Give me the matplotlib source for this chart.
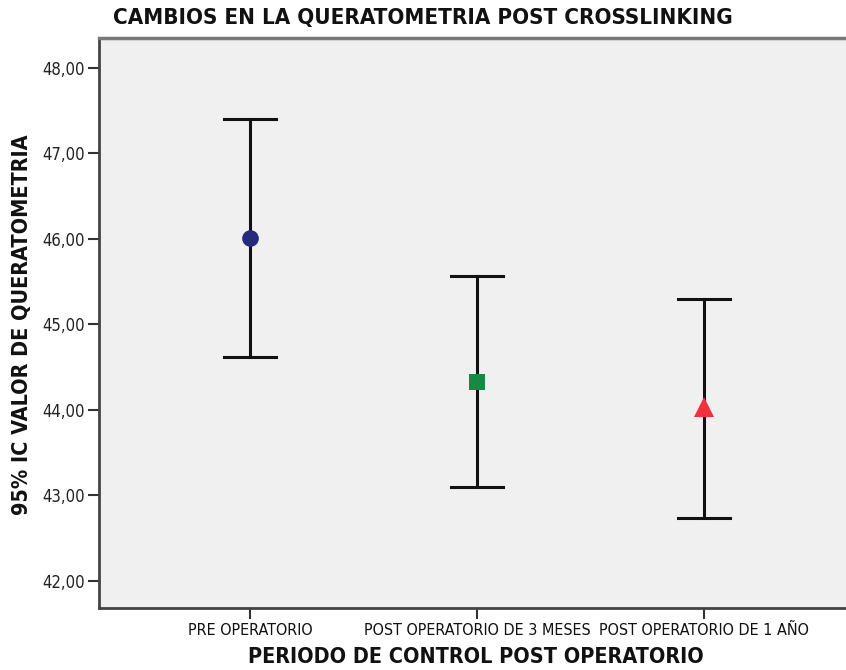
import matplotlib
matplotlib.use("Agg")
import matplotlib.pyplot as plt

categories = ["PRE OPERATORIO", "POST OPERATORIO DE 3 MESES", "POST OPERATORIO DE 1 AÑO"]
means = [46.01, 44.32, 44.03]
ci_low = [44.62, 43.10, 42.73]
ci_high = [47.40, 45.56, 45.30]
yticks = [42, 43, 44, 45, 46, 47, 48]
markers = ["o", "s", "^"]
colors = ["#262a7c", "#168a42", "#f0323e"]

fam = ["DejaVu Sans"]
st = "condensed"

fig = plt.figure(figsize=(8.46, 6.70), dpi=100)
ax = fig.add_axes([99/846, 1 - 608/670, (846-99)/846, (608-38)/670])
ax.set_facecolor("#f0f0f0")

x = list(range(1, len(categories) + 1))
for i in range(len(categories)):
    ax.plot([x[i], x[i]], [ci_low[i], ci_high[i]], color="#111111", lw=2.2, zorder=2)
    for v in (ci_low[i], ci_high[i]):
        ax.plot([x[i] - 0.115, x[i] + 0.115], [v, v], color="#111111", lw=2.2, zorder=2)
    ms = 12 if markers[i] == "o" else (11.5 if markers[i] == "s" else 14)
    ax.plot(x[i], means[i], marker=markers[i], color=colors[i], markersize=ms,
            markeredgewidth=0, linestyle="none", zorder=3)

ax.set_xlim(0.335, 3.626)
ax.set_ylim(41.68, 48.35)
ax.set_yticks(yticks)
ax.set_yticklabels([f"{v:.2f}".replace(".", ",") for v in yticks], fontsize=12,
                   family=fam, stretch=st, color="#222222")
ax.set_xticks(x)
ax.set_xticklabels(categories, fontsize=11.5, family=fam, stretch=st, color="#111111")
ax.tick_params(axis="y", length=8, width=1.5, color="#333333", pad=2)
ax.tick_params(axis="x", length=8, width=1.5, color="#333333", pad=3)
for s in ["left", "bottom"]:
    ax.spines[s].set_linewidth(2)
    ax.spines[s].set_color("#444444")
ax.spines["top"].set_linewidth(2.5)
ax.spines["top"].set_color("#777777")
ax.spines["right"].set_visible(False)

fig.text(113/846, 1 - 18/670, "CAMBIOS EN LA QUERATOMETRIA POST CROSSLINKING",
         fontsize=16, fontweight="bold", family=fam, stretch=st, ha="left", va="center", color="#111111")
fig.text(476/846, 1 - 657/670, "PERIODO DE CONTROL POST OPERATORIO",
         fontsize=15.5, fontweight="bold", family=fam, stretch=st, ha="center", va="center", color="#111111")
fig.text(22/846, 1 - 325/670, "95% IC VALOR DE QUERATOMETRIA", rotation=90,
         fontsize=15.5, fontweight="bold", family=fam, stretch=st, ha="center", va="center", color="#111111")

fig.savefig("out.png", dpi=100, facecolor="white")
